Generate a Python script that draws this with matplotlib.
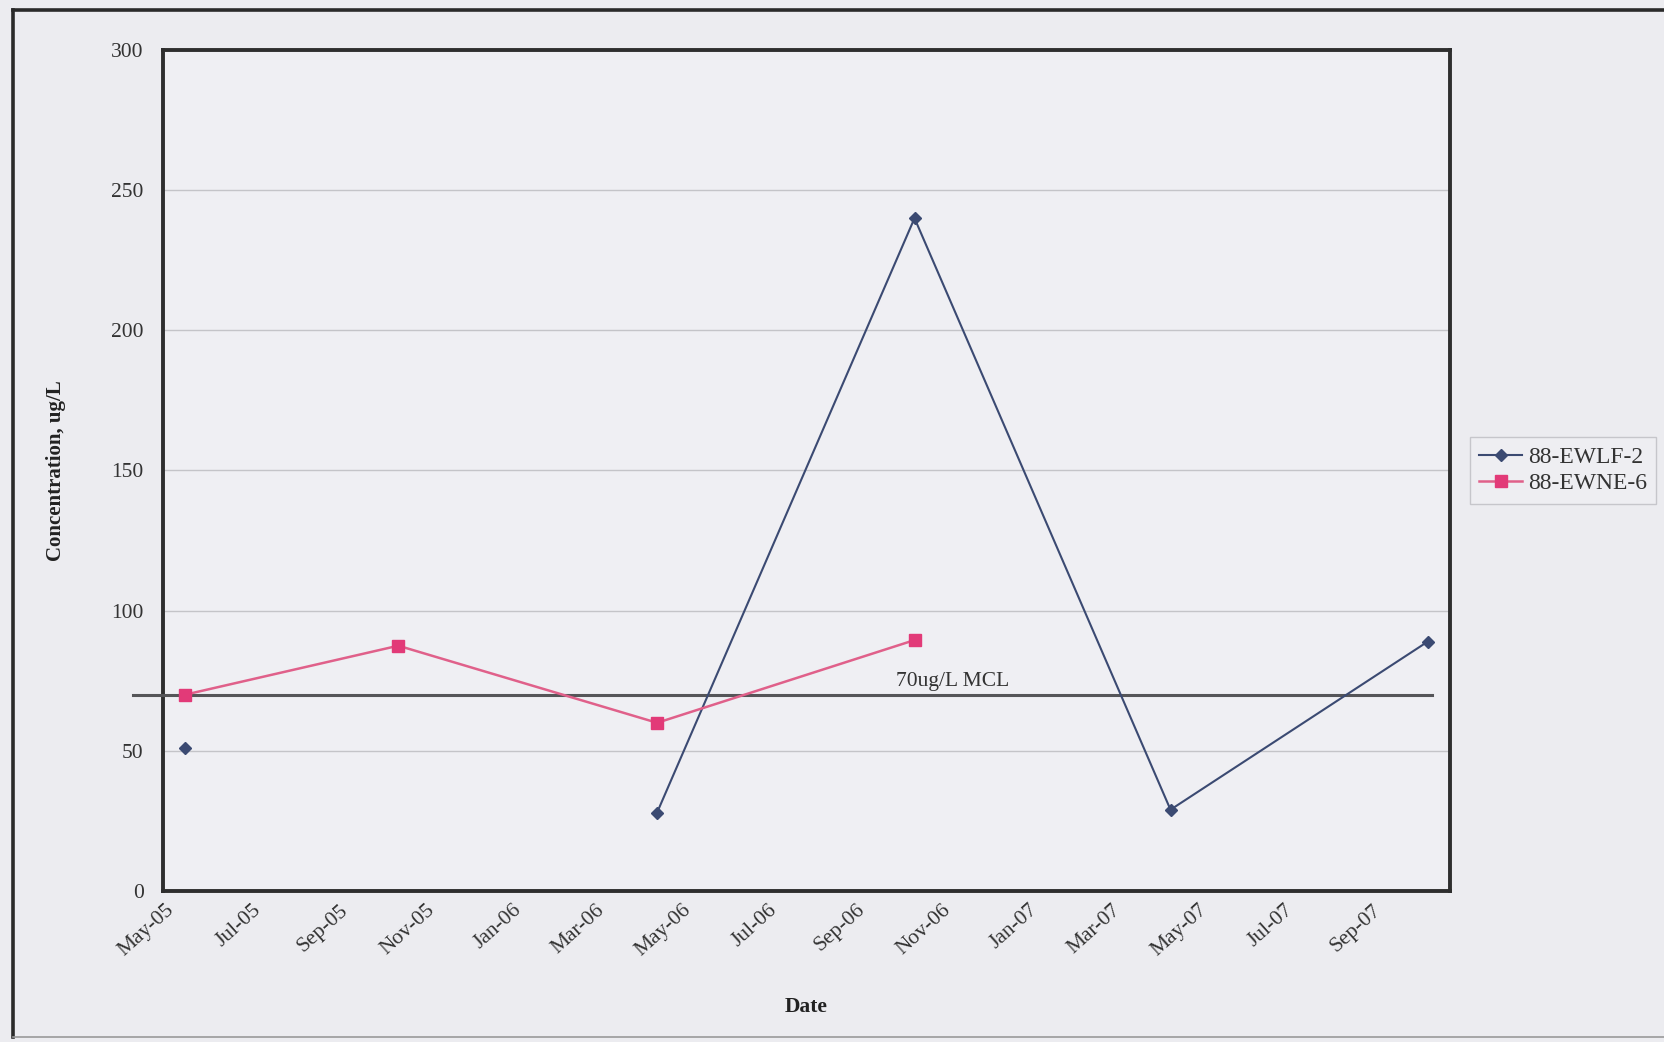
import matplotlib
matplotlib.use("Agg")
import matplotlib.pyplot as plt
import matplotlib.dates as mdates
from matplotlib.lines import Line2D
import numpy as np
import datetime as dt

# ---- data ----
sample_dates = ["2005-05-10", "2005-10-08", "2006-04-09", "2006-10-08", "2007-04-07", "2007-10-06"]
ewlf2 = [51, np.nan, 28, 240, 29, 89]
ewne6 = [70, 87.5, 60, 89.5, np.nan, np.nan]
series_names = ["88-EWLF-2", "88-EWNE-6"]
y_ticks = [0, 50, 100, 150, 200, 250, 300]
mcl_value = 70
mcl_label = "70ug/L MCL"
x_label = "Date"
y_label = "Concentration, ug/L"

dates = [dt.datetime.strptime(d, "%Y-%m-%d") for d in sample_dates]

plt.rcParams['font.family'] = ['Liberation Serif', 'DejaVu Serif']

W, H = 1664, 1042
fig = plt.figure(figsize=(W / 100, H / 100), dpi=100)
bg = "#ECECF0"
fig.patch.set_facecolor(bg)

# outer frame (left, top, bottom edges; right edge is off the picture)
frame_kw = dict(color="#2a2a2a", lw=2.6, transform=fig.transFigure)
fig.add_artist(Line2D([13 / W, 13 / W], [1 - 10 / H, 1 - 1037 / H], **frame_kw))
fig.add_artist(Line2D([13 / W, 1.0], [1 - 10 / H, 1 - 10 / H], **frame_kw))
fig.add_artist(Line2D([13 / W, 1.0], [1 - 1037 / H, 1 - 1037 / H], color="#9a9a9a", lw=1.2,
                      transform=fig.transFigure))

left, right, top, bottom = 163, 1450, 50, 891
ax = fig.add_axes([left / W, 1 - bottom / H, (right - left) / W, (bottom - top) / H])
ax.set_facecolor("#EFEFF3")

blue = "#3B4A72"
pink_line = "#E0608A"
pink_mk = "#E23A78"
txt = "#333333"
fs = 15.5

ax.plot(dates, ewlf2, color=blue, lw=1.5, marker="D", markersize=6.5,
        markerfacecolor=blue, markeredgecolor=blue, label=series_names[0], zorder=4)
ax.plot(dates, ewne6, color=pink_line, lw=1.8, marker="s", markersize=8,
        markerfacecolor=pink_mk, markeredgecolor=pink_mk, label=series_names[1], zorder=4)

ax.set_ylim(y_ticks[0], y_ticks[-1])
xmin = mdates.date2num(dt.datetime(2005, 4, 24, 15))
xmax = mdates.date2num(dt.datetime(2007, 10, 21, 15))
ax.set_xlim(xmin, xmax)

def px_to_x(px):
    return xmin + (px - left) / (right - left) * (xmax - xmin)

# MCL line (extends slightly left of the axis, as in the reference)
ax.plot([px_to_x(133), px_to_x(1432)], [mcl_value, mcl_value], color="#555558", lw=2.2,
        clip_on=False, zorder=3)
ax.text(px_to_x(953), mcl_value + 1.4, mcl_label, ha="center", va="bottom",
        fontsize=fs, color=txt, zorder=5)

ax.set_yticks(y_ticks)
ax.yaxis.grid(True, color="#C4C4C8", lw=1.0)
ax.set_axisbelow(True)
ax.tick_params(axis="y", length=0, pad=14, labelsize=fs, labelcolor=txt)

ax.xaxis.set_major_locator(mdates.MonthLocator(bymonth=[1, 3, 5, 7, 9, 11]))
ax.xaxis.set_major_formatter(mdates.DateFormatter("%b-%y"))
ax.tick_params(axis="x", length=0, pad=12, labelsize=fs, labelcolor=txt)
for lbl in ax.get_xticklabels():
    lbl.set_rotation(42)
    lbl.set_ha("right")
    lbl.set_va("center")
    lbl.set_rotation_mode("anchor")

for s in ax.spines.values():
    s.set_color("#2e2e2e")
    s.set_linewidth(2.8)

ax.set_xlabel(x_label, fontsize=fs, fontweight="bold", color="#222222", labelpad=0)
ax.xaxis.set_label_coords(0.5, -(997 - bottom) / (bottom - top))
ax.set_ylabel(y_label, fontsize=fs - 0.5, fontweight="bold", color="#222222")
ax.yaxis.set_label_coords(-(left - 66) / (right - left), 0.5)

leg = fig.legend(loc="upper left", bbox_to_anchor=(1470 / W, 1 - 437 / H),
                 frameon=True, fontsize=17, handlelength=1.8, borderpad=0.4,
                 borderaxespad=0, labelspacing=0.2, handletextpad=0.25)
leg.get_frame().set_facecolor("#EFEFF3")
leg.get_frame().set_edgecolor("#BDBDC2")
leg.get_frame().set_linewidth(1.0)
leg.get_frame().set_boxstyle("square", pad=0)
for t in leg.get_texts():
    t.set_color(txt)

fig.savefig("out.png", dpi=100, facecolor=fig.get_facecolor())
